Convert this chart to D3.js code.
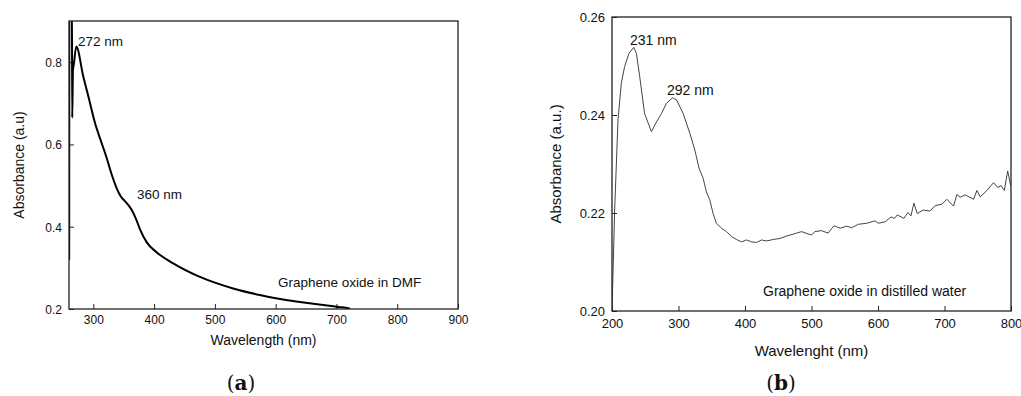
<!DOCTYPE html>
<html>
<head>
<meta charset="utf-8">
<script src="https://cdn.jsdelivr.net/npm/d3@7"></script>
<style>
  body { margin: 0; background: #fff; }
  svg { display: block; font-family: "Liberation Sans", Arial, sans-serif; }
</style>
</head>
<body>
<svg id="chart" width="1021" height="396"></svg>
<script>
// Panel (a): graphene oxide in DMF
const waveA = [260.3, 260.6, 264.8, 265.3, 266.5, 268, 272, 283.5, 291.8, 302.8, 313.8, 322,
  330, 338, 345, 352, 358, 363, 371, 377, 388, 404, 431.5, 475.5, 530, 574, 585, 610, 640, 665, 695, 710, 722];
const absA = [0.32, 0.95, 0.95, 0.665, 0.78, 0.795, 0.838, 0.765, 0.717, 0.652, 0.603, 0.567,
  0.528, 0.495, 0.474, 0.462, 0.452, 0.441, 0.416, 0.393, 0.362, 0.338, 0.311, 0.278, 0.250, 0.234, 0.2305, 0.2235, 0.217, 0.212, 0.2066, 0.204, 0.201];
const ticksAx = [300, 400, 500, 600, 700, 800, 900];
const ticksAy = [0.2, 0.4, 0.6, 0.8];

// Panel (b): graphene oxide in distilled water
const waveB = [200, 204, 209, 214, 219, 225.6, 232.7, 236.7, 241.7, 249, 259.3, 266.9, 274.4, 282, 291, 297,
  307, 317, 324.5, 331, 337, 342, 347, 352, 357, 364.8, 372, 380, 387, 395, 402, 410, 417.5, 425, 432.5,
  442.5, 452.5, 462.6, 467.6, 477.7, 485, 500, 505, 515, 525, 533.9, 543, 553, 560.5, 570.5, 583, 595.6,
  600.6, 610.7, 619.7, 624.7, 629, 639, 645, 649.5, 654, 659, 668, 678, 686, 696, 703.6, 713.6, 718.7,
  723.6, 731, 743.7, 748.7, 753.7, 763.8, 773.8, 779.8, 785, 790, 795, 799.5];
const absB = [0.200, 0.2206, 0.239, 0.2465, 0.2499, 0.2526, 0.2538, 0.2526, 0.2478, 0.2403, 0.2366, 0.2386,
  0.2403, 0.2424, 0.2435, 0.2431, 0.2403, 0.2363, 0.2329, 0.2291, 0.2271, 0.2243, 0.2227, 0.2199, 0.2179,
  0.2169, 0.2162, 0.2152, 0.2146, 0.2141, 0.2145, 0.2141, 0.2140, 0.2145, 0.2143, 0.2146, 0.2148, 0.2153,
  0.2155, 0.2159, 0.2162, 0.2155, 0.2162, 0.2164, 0.2159, 0.2174, 0.2169, 0.2173, 0.2170, 0.2177, 0.2179,
  0.2184, 0.2179, 0.2182, 0.2192, 0.2189, 0.2196, 0.2189, 0.2201, 0.2194, 0.2220, 0.2199, 0.2206, 0.2204,
  0.2215, 0.2218, 0.2228, 0.2214, 0.2238, 0.2232, 0.2237, 0.2228, 0.2246, 0.2233, 0.2246, 0.2262, 0.2252,
  0.2256, 0.2246, 0.2286, 0.2256];
const ticksBx = [200, 300, 400, 500, 600, 700, 800];
const ticksBy = [0.20, 0.22, 0.24, 0.26];

const svg = d3.select('#chart');

function drawPanel(cfg) {
  const x = d3.scaleLinear().domain(cfg.xDomain).range([cfg.left, cfg.right]);
  const y = d3.scaleLinear().domain(cfg.yDomain).range([cfg.bottom, cfg.top]);
  const g = svg.append('g');

  const clipId = 'clip-' + cfg.id;
  g.append('clipPath').attr('id', clipId)
    .append('rect')
    .attr('x', cfg.left).attr('y', cfg.top)
    .attr('width', cfg.right - cfg.left).attr('height', cfg.bottom - cfg.top);

  // inward ticks
  const xAxis = d3.axisBottom(x).tickValues(cfg.xTicks).tickSizeInner(-5).tickSizeOuter(0).tickPadding(cfg.xPad);
  const yAxis = d3.axisLeft(y).tickValues(cfg.yTicks).tickSizeInner(-5).tickSizeOuter(0)
    .tickPadding(cfg.yPad).tickFormat(d3.format(cfg.yFmt));

  const gx = g.append('g').attr('transform', `translate(0,${cfg.bottom})`).call(xAxis);
  const gy = g.append('g').attr('transform', `translate(${cfg.left},0)`).call(yAxis);
  [gx, gy].forEach(a => {
    a.select('.domain').remove();
    a.selectAll('line').attr('stroke', '#222');
    a.selectAll('text').attr('fill', '#111').style('font-size', cfg.tickFont + 'px')
      .style('font-family', '"Liberation Sans", Arial, sans-serif');
  });
  gy.selectAll('text').attr('dy', '0.36em');

  const line = d3.line().x(d => x(d[0])).y(d => y(d[1])).curve(cfg.curve);
  g.append('path')
    .datum(d3.zip(cfg.wave, cfg.abs))
    .attr('clip-path', `url(#${clipId})`)
    .attr('fill', 'none')
    .attr('stroke', cfg.lineColor)
    .attr('stroke-width', cfg.lineWidth)
    .attr('stroke-linejoin', 'round')
    .attr('d', line);

  g.append('rect')
    .attr('x', cfg.left).attr('y', cfg.top)
    .attr('width', cfg.right - cfg.left).attr('height', cfg.bottom - cfg.top)
    .attr('fill', 'none').attr('stroke', '#222').attr('stroke-width', 1.3);

  cfg.notes.forEach(n => {
    g.append('text').attr('x', n.x).attr('y', n.y)
      .style('font-size', n.size + 'px').attr('fill', '#111').text(n.text);
  });

  g.append('text')
    .attr('x', (cfg.left + cfg.right) / 2).attr('y', cfg.xTitleY)
    .attr('text-anchor', 'middle').style('font-size', cfg.titleFont + 'px').attr('fill', '#111')
    .text(cfg.xTitle);

  g.append('text')
    .attr('transform', `translate(${cfg.yTitleX},${(cfg.top + cfg.bottom) / 2}) rotate(-90)`)
    .attr('text-anchor', 'middle').style('font-size', cfg.titleFont + 'px').attr('fill', '#111')
    .text(cfg.yTitle);

  const lab = g.append('text')
    .attr('x', cfg.labelX).attr('y', 390)
    .attr('text-anchor', 'middle')
    .style('font-family', '"DejaVu Serif", "Liberation Serif", serif')
    .style('font-size', '20px').attr('fill', '#111');
  lab.append('tspan').text('(');
  lab.append('tspan').style('font-weight', 'bold').text(cfg.label);
  lab.append('tspan').text(')');
}

drawPanel({
  id: 'a', wave: waveA, abs: absA,
  xDomain: [260, 900], yDomain: [0.2, 0.9],
  left: 69, right: 458, top: 21, bottom: 309,
  xTicks: ticksAx, yTicks: ticksAy, yFmt: '.1f',
  xPad: 6, yPad: 7, tickFont: 12, titleFont: 14,
  lineColor: '#000', lineWidth: 2, curve: d3.curveMonotoneX,
  xTitle: 'Wavelength (nm)', xTitleY: 345,
  yTitle: 'Absorbance (a.u)', yTitleX: 24,
  notes: [
    { x: 78, y: 46, text: '272 nm', size: 13.5 },
    { x: 137, y: 199, text: '360 nm', size: 13.5 },
    { x: 278, y: 287, text: 'Graphene oxide in DMF', size: 13.5 }
  ],
  label: 'a', labelX: 241
});

drawPanel({
  id: 'b', wave: waveB, abs: absB,
  xDomain: [200, 800], yDomain: [0.20, 0.26],
  left: 612, right: 1011, top: 17, bottom: 311,
  xTicks: ticksBx, yTicks: ticksBy, yFmt: '.2f',
  xPad: 8, yPad: 7, tickFont: 13, titleFont: 15,
  lineColor: '#444', lineWidth: 1, curve: d3.curveLinear,
  xTitle: 'Wavelenght (nm)', xTitleY: 356,
  yTitle: 'Absorbance (a.u.)', yTitleX: 561,
  notes: [
    { x: 630, y: 45, text: '231 nm', size: 14 },
    { x: 667, y: 95, text: '292 nm', size: 14 },
    { x: 763, y: 296, text: 'Graphene oxide in distilled water', size: 14 }
  ],
  label: 'b', labelX: 781
});
</script>
</body>
</html>
